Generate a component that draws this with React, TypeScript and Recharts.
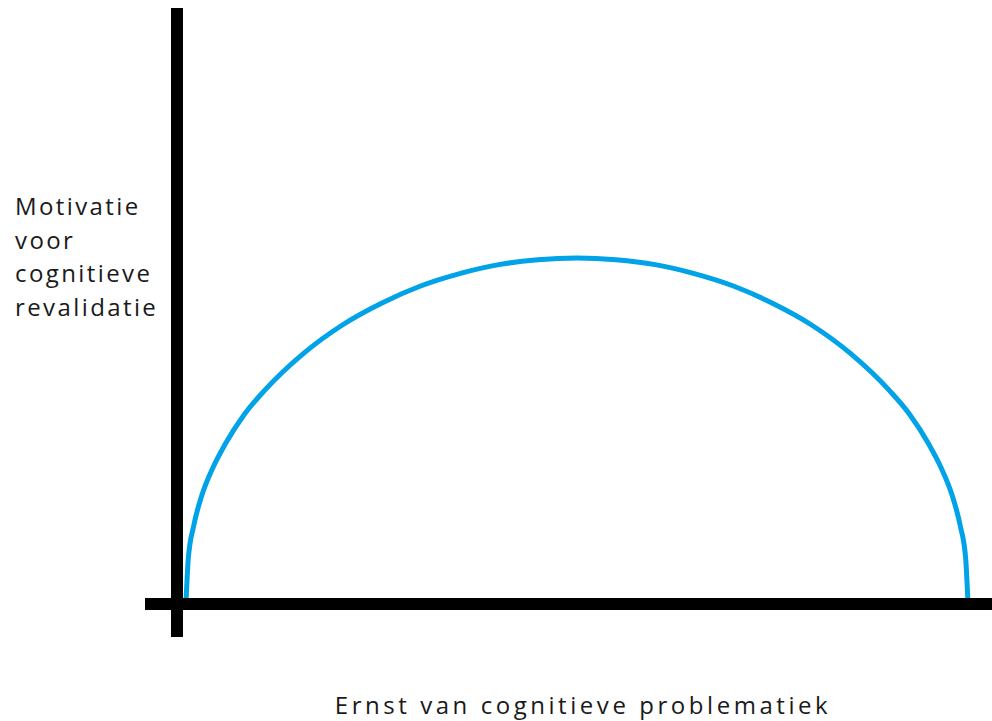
import { LineChart, Line, XAxis, YAxis, ReferenceLine } from "recharts";

// severity (0-100) -> motivation (0-100)
const severity = [
  0, 0.3, 1, 2, 3.5, 5, 7.5, 10, 15, 20, 25, 30, 35, 40, 45, 50,
  55, 60, 65, 70, 75, 80, 85, 90, 92.5, 95, 96.5, 98, 99, 99.7, 100,
];
const motivation = [
  0, 13, 22.5, 31, 39.5, 46, 54.8, 61.5, 72.3, 80.6, 86.9, 91.9, 95.5, 98.1, 99.5, 100,
  99.5, 98.1, 95.5, 91.9, 86.9, 80.6, 72.3, 61.5, 54.8, 46, 39.5, 31, 22.5, 13, 0,
];

const yLabelLines = ["Motivatie", "voor", "cognitieve", "revalidatie"];
const xLabel = "Ernst van cognitieve problematiek";

const data = severity.map((x, i) => ({ x, y: motivation[i] }));

const font = "'Open Sans', sans-serif";

const App = () => {
  return (
    <div style={{ position: "absolute", left: 0, top: 0, width: 992, height: 721, background: "#fff" }}>
      <LineChart
        width={992}
        height={721}
        data={data}
        margin={{ top: 8, right: 0, bottom: 84, left: 145 }}
      >
        <XAxis type="number" dataKey="x" domain={[-5.24, 103.07]} allowDataOverflow hide />
        <YAxis type="number" domain={[-9.86, 172.5]} allowDataOverflow hide />
        <Line
          type="monotone"
          dataKey="y"
          stroke="#00a2e8"
          strokeWidth={5}
          dot={false}
          isAnimationActive={false}
        />
        <ReferenceLine x={-1.15} stroke="#000" strokeWidth={12} />
        <ReferenceLine y={-0.3} stroke="#000" strokeWidth={12} />
      </LineChart>
      <div
        style={{
          position: "absolute",
          left: 15,
          top: 189,
          fontFamily: font,
          fontSize: 24,
          lineHeight: "33.7px",
          letterSpacing: 2.4,
          color: "#1a1a1a",
        }}
      >
        {yLabelLines.map((l) => (
          <div key={l}>{l}</div>
        ))}
      </div>
      <div
        style={{
          position: "absolute",
          left: 0,
          width: 1166,
          top: 688,
          textAlign: "center",
          fontFamily: font,
          fontSize: 24,
          lineHeight: "33.7px",
          letterSpacing: 3.55,
          color: "#1a1a1a",
          whiteSpace: "nowrap",
        }}
      >
        {xLabel}
      </div>
    </div>
  );
};

export default App;
